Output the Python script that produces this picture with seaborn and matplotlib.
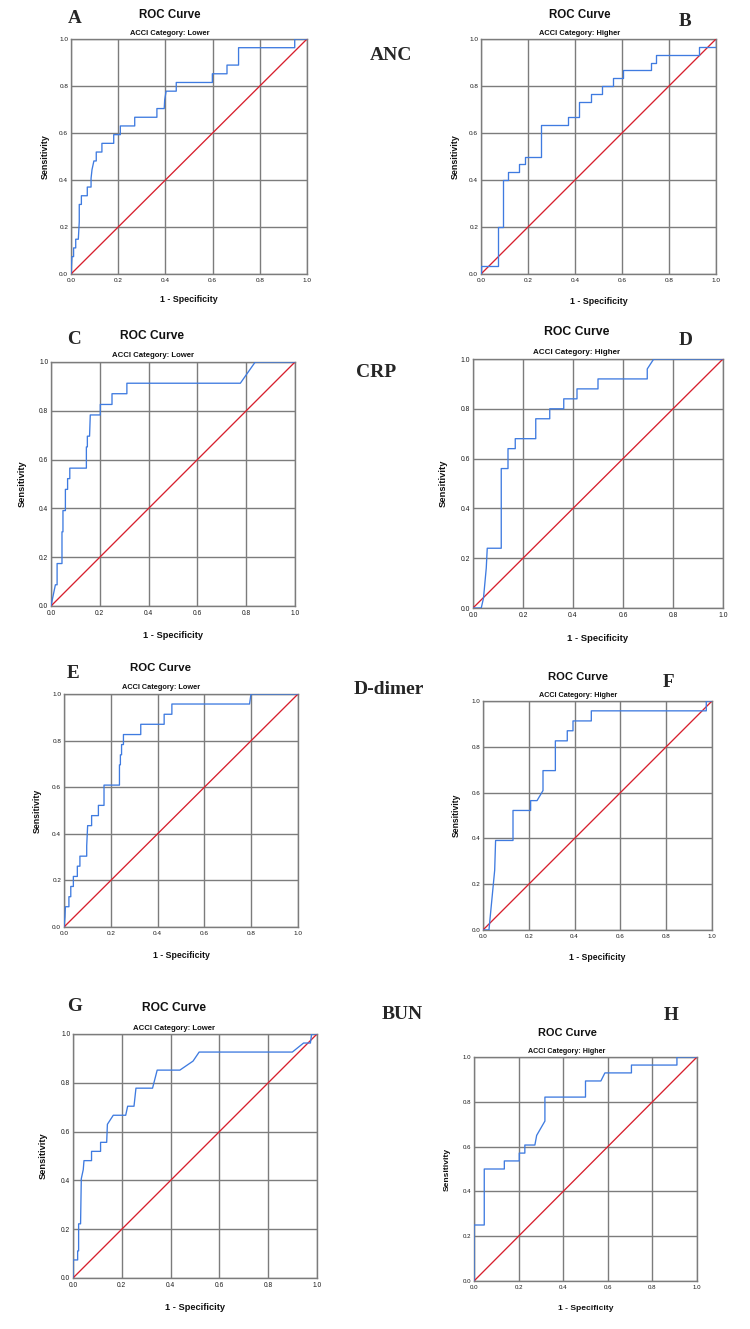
import numpy as np
import pandas as pd

import seaborn as sns
import matplotlib
matplotlib.use('Agg')
import matplotlib.pyplot as plt

# ROC vertices: (1 - specificity, sensitivity)
fpr_a = [0, 0.004, 0.011, 0.011, 0.020, 0.020, 0.031, 0.035, 0.035, 0.044, 0.044, 0.069, 0.069, 0.085, 0.085,
         0.089, 0.097, 0.107, 0.107, 0.131, 0.131, 0.181, 0.181, 0.209, 0.209, 0.270, 0.270, 0.364, 0.364,
         0.395, 0.397, 0.403, 0.446, 0.446, 0.599, 0.599, 0.661, 0.661, 0.710, 0.710, 0.948, 0.948, 1.0]
tpr_a = [0, 0.074, 0.074, 0.111, 0.111, 0.148, 0.148, 0.222, 0.296, 0.296, 0.333, 0.333, 0.370, 0.370, 0.407,
         0.444, 0.481, 0.481, 0.519, 0.519, 0.556, 0.556, 0.593, 0.593, 0.630, 0.630, 0.667, 0.667, 0.704,
         0.704, 0.741, 0.778, 0.778, 0.815, 0.815, 0.852, 0.852, 0.889, 0.889, 0.963, 0.963, 1.0, 1.0]

fpr_b = [0, 0, 0.071, 0.071, 0.092, 0.092, 0.115, 0.115, 0.163, 0.163, 0.186, 0.186, 0.255, 0.255, 0.371,
         0.371, 0.419, 0.419, 0.466, 0.466, 0.513, 0.513, 0.560, 0.560, 0.606, 0.606, 0.722, 0.722, 0.745,
         0.745, 0.929, 0.929, 1.0, 1.0]
tpr_b = [0, 0.033, 0.033, 0.2, 0.2, 0.4, 0.4, 0.433, 0.433, 0.467, 0.467, 0.5, 0.5, 0.633, 0.633,
         0.667, 0.667, 0.733, 0.733, 0.767, 0.767, 0.8, 0.8, 0.833, 0.833, 0.867, 0.867, 0.9, 0.9,
         0.933, 0.933, 0.967, 0.967, 1.0]

fpr_c = [0, 0.018, 0.025, 0.025, 0.045, 0.045, 0.049, 0.049, 0.059, 0.059, 0.068, 0.068, 0.077, 0.077, 0.145,
         0.145, 0.149, 0.149, 0.158, 0.161, 0.202, 0.202, 0.250, 0.250, 0.311, 0.311, 0.776, 0.837, 1.0]
tpr_c = [0, 0.087, 0.087, 0.174, 0.174, 0.304, 0.304, 0.391, 0.391, 0.478, 0.478, 0.522, 0.522, 0.565, 0.565,
         0.652, 0.652, 0.696, 0.696, 0.783, 0.783, 0.826, 0.826, 0.870, 0.870, 0.913, 0.913, 1.0, 1.0]

fpr_d = [0, 0.033, 0.042, 0.053, 0.057, 0.113, 0.113, 0.140, 0.140, 0.169, 0.169, 0.251, 0.251, 0.307, 0.307,
         0.363, 0.363, 0.416, 0.416, 0.5, 0.5, 0.697, 0.697, 0.723, 1.0]
tpr_d = [0, 0, 0.04, 0.16, 0.24, 0.24, 0.56, 0.56, 0.64, 0.64, 0.68, 0.68, 0.76, 0.76, 0.80,
         0.80, 0.84, 0.84, 0.88, 0.88, 0.92, 0.92, 0.96, 1.0, 1.0]

fpr_e = [0, 0.004, 0.006, 0.021, 0.021, 0.029, 0.029, 0.040, 0.040, 0.057, 0.057, 0.068, 0.068, 0.097, 0.097,
         0.101, 0.118, 0.118, 0.147, 0.147, 0.171, 0.171, 0.237, 0.237, 0.241, 0.241, 0.246, 0.246, 0.254,
         0.254, 0.328, 0.328, 0.428, 0.428, 0.461, 0.461, 0.793, 0.799, 1.0]
tpr_e = [0, 0.043, 0.087, 0.087, 0.130, 0.130, 0.174, 0.174, 0.217, 0.217, 0.261, 0.261, 0.304, 0.304, 0.348,
         0.435, 0.435, 0.478, 0.478, 0.522, 0.522, 0.609, 0.609, 0.696, 0.696, 0.739, 0.739, 0.783, 0.783,
         0.826, 0.826, 0.870, 0.870, 0.913, 0.913, 0.957, 0.957, 1.0, 1.0]

fpr_f = [0, 0.026, 0.051, 0.055, 0.131, 0.131, 0.208, 0.208, 0.236, 0.262, 0.262, 0.316, 0.316, 0.368, 0.368,
         0.393, 0.393, 0.473, 0.473, 0.975, 0.975, 1.0]
tpr_f = [0, 0, 0.261, 0.391, 0.391, 0.522, 0.522, 0.565, 0.565, 0.609, 0.696, 0.696, 0.826, 0.826, 0.870,
         0.870, 0.913, 0.913, 0.957, 0.957, 1.0, 1.0]

fpr_g = [0, 0, 0.019, 0.019, 0.023, 0.023, 0.031, 0.034, 0.042, 0.045, 0.076, 0.076, 0.113, 0.113, 0.138,
         0.141, 0.165, 0.216, 0.224, 0.250, 0.258, 0.326, 0.345, 0.438, 0.492, 0.517, 0.899, 0.945, 0.973,
         0.978, 1.0]
tpr_g = [0, 0.074, 0.074, 0.111, 0.111, 0.222, 0.222, 0.407, 0.444, 0.481, 0.481, 0.519, 0.519, 0.556, 0.556,
         0.630, 0.667, 0.667, 0.704, 0.704, 0.778, 0.778, 0.852, 0.852, 0.889, 0.926, 0.926, 0.963, 0.963,
         1.0, 1.0]

fpr_h = [0, 0, 0.046, 0.046, 0.136, 0.136, 0.203, 0.203, 0.228, 0.228, 0.273, 0.281, 0.318, 0.318, 0.5,
         0.5, 0.569, 0.587, 0.706, 0.706, 0.910, 0.910, 1.0]
tpr_h = [0, 0.25, 0.25, 0.5, 0.5, 0.536, 0.536, 0.571, 0.571, 0.607, 0.607, 0.65, 0.714, 0.821, 0.821,
         0.893, 0.893, 0.929, 0.929, 0.964, 0.964, 1.0, 1.0]

panel_letters = ['A', 'B', 'C', 'D', 'E', 'F', 'G', 'H']
categories = ['Lower', 'Higher'] * 4
markers = ['ANC', 'CRP', 'D-dimer', 'BUN']
ticks = [0.0, 0.2, 0.4, 0.6, 0.8, 1.0]
tick_labels = ['0.0', '0.2', '0.4', '0.6', '0.8', '1.0']
diag = [0.0, 1.0]

curves = [(fpr_a, tpr_a), (fpr_b, tpr_b), (fpr_c, tpr_c), (fpr_d, tpr_d),
          (fpr_e, tpr_e), (fpr_f, tpr_f), (fpr_g, tpr_g), (fpr_h, tpr_h)]

# layout in reference pixels: axes box (l, t, r, b), title centre x, title y, subtitle y,
# letter (x, y), ylabel centre x, xlabel centre y
layout = [
    ((71, 39, 307, 274), 170, 14, 32, (74.5, 16.5), 45, 300),
    ((481, 39, 716, 274), 580, 14, 32, (685, 20), 455, 301),
    ((51, 362, 295, 606), 152.5, 335, 354, (74, 338), 22, 635),
    ((473, 359, 723, 608), 577, 331, 351, (686, 339), 443, 638),
    ((64, 694, 298, 927), 161, 667, 686, (73, 672), 37, 955),
    ((483, 701, 712, 930), 578, 676, 694, (669, 681), 456, 957),
    ((73, 1034, 317, 1278), 174, 1007, 1027, (74.5, 1005), 43, 1308),
    ((474, 1057, 697, 1281), 567, 1032, 1050, (671, 1014), 447, 1308),
]
marker_pos = [(391, 54), (376, 371), (389, 688), (402, 1013)]

W, H = 750, 1329
BLUE = '#3f7be0'
RED = '#d7202e'
GRID = '#7c7c7c'

sns.set_theme(style='white')
plt.rcParams['font.family'] = ['Liberation Sans', 'DejaVu Sans']

fig = plt.figure(figsize=(W / 100, H / 100), dpi=100)


def fx(x):
    return x / W


def fy(y):
    return 1 - y / H


def base(yc, size, cap=0.716):
    # baseline (pixels from top) for text whose cap centre is at yc
    return yc + cap * size * 100 / 72 / 2


for i, ((fpr, tpr), lay) in enumerate(zip(curves, layout)):
    (l, t, r, b), tx, ty, sy, (lx, ly), ylx, xly = lay
    s = (b - t) / 235.0
    ax = fig.add_axes([fx(l), fy(b), (r - l) / W, (b - t) / H])

    df = pd.DataFrame({'fpr': fpr, 'tpr': tpr})
    sns.lineplot(data=df, x='fpr', y='tpr', sort=False, estimator=None,
                 color=BLUE, lw=0.95, ax=ax, zorder=4)
    sns.lineplot(x=diag, y=diag, color=RED, lw=0.95, ax=ax, zorder=3)

    ax.set_xlim(0, 1)
    ax.set_ylim(0, 1)
    ax.set_xticks(ticks)
    ax.set_yticks(ticks)
    ax.set_xticklabels(tick_labels)
    ax.set_yticklabels(tick_labels)
    ax.grid(True, color=GRID, lw=1.0)
    ax.set_axisbelow(True)
    ax.tick_params(length=0, labelsize=4.6 * s, colors='#1a1a1a')
    ax.tick_params(axis='x', pad=2.8)
    ax.tick_params(axis='y', pad=2.0)
    for sp in ax.spines.values():
        sp.set_color(GRID)
        sp.set_linewidth(1.0)

    ax.set_xlabel('1 - Specificity', fontsize=6.4 * s, fontweight='bold', color='#111111')
    ax.set_ylabel('Sensitivity', fontsize=6.4 * s, fontweight='bold', color='#111111')
    ax.xaxis.set_label_coords(0.5, -(xly - b) / (b - t))
    ax.yaxis.set_label_coords(-(l - ylx) / (r - l), 0.5)
    ax.xaxis.label.set_va('center')
    ax.yaxis.label.set_va('center')

    fig.text(fx(tx), fy(base(ty, 8.3 * s)), 'ROC Curve', ha='center', va='baseline',
             fontsize=8.3 * s, fontweight='bold', color='#111111')
    fig.text(fx(tx), fy(base(sy, 5.4 * s)), 'ACCI Category: ' + categories[i], ha='center',
             va='baseline', fontsize=5.4 * s, fontweight='bold', color='#111111')
    fig.text(fx(lx), fy(base(ly, 13.8, cap=0.662)), panel_letters[i], ha='center', va='baseline',
             fontsize=13.8, fontweight='bold', family=['Liberation Serif', 'DejaVu Serif'])

for name, (mx, my) in zip(markers, marker_pos):
    fig.text(fx(mx), fy(base(my, 14, cap=0.662)), name, ha='center', va='baseline',
             fontsize=14, fontweight='bold', family=['Liberation Serif', 'DejaVu Serif'])

plt.savefig('out.png', dpi=100, facecolor='white')
